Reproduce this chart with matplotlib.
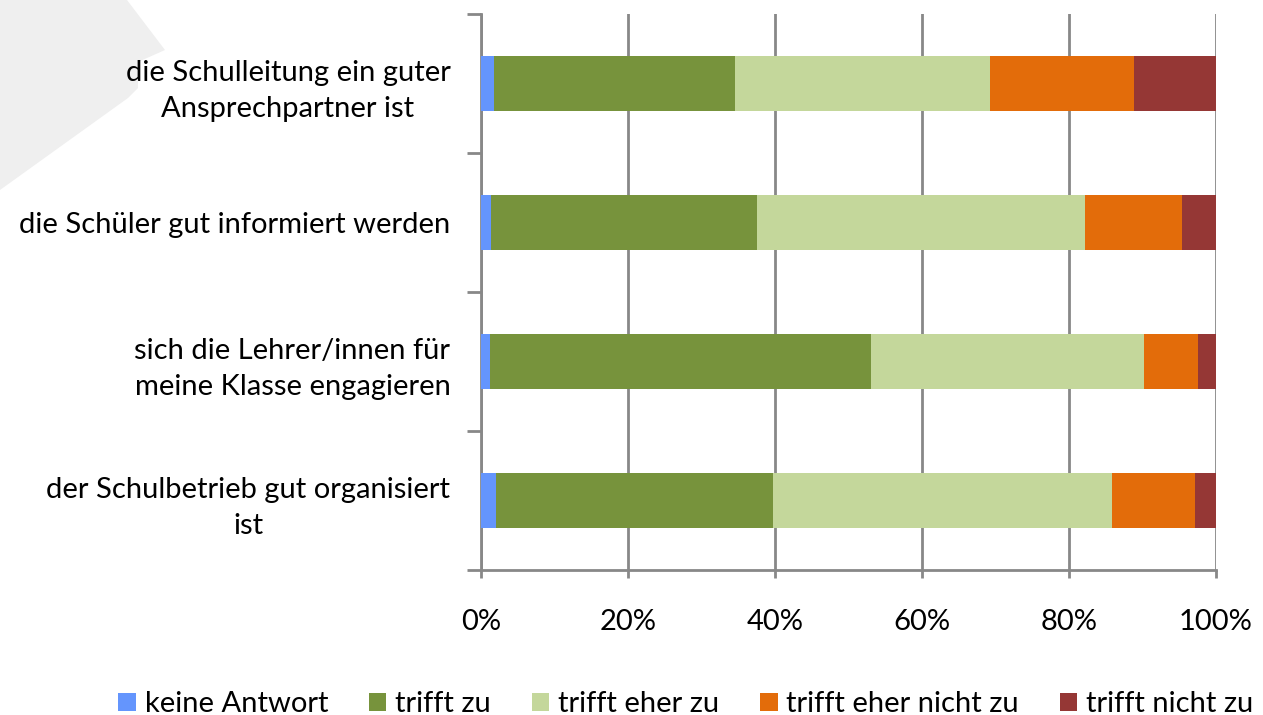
import matplotlib.pyplot as plt
from matplotlib.patches import Polygon
import numpy as np

plt.rcParams['font.family'] = ['Lato', 'DejaVu Sans']

categories = [
    "die Schulleitung ein guter\nAnsprechpartner ist",
    "die Schüler gut informiert werden",
    "sich die Lehrer/innen für\nmeine Klasse engagieren",
    "der Schulbetrieb gut organisiert\nist",
]
series_names = ["keine Antwort", "trifft zu", "trifft eher zu", "trifft eher nicht zu", "trifft nicht zu"]
keine_antwort = [1.8, 1.4, 1.2, 2.1]
trifft_zu = [32.8, 36.2, 51.8, 37.6]
trifft_eher_zu = [34.7, 44.6, 37.2, 46.2]
trifft_eher_nicht_zu = [19.5, 13.2, 7.4, 11.2]
trifft_nicht_zu = [11.2, 4.6, 2.4, 2.9]
colors = ["#6495fd", "#77933c", "#c4d79b", "#e36c0a", "#953735"]
x_ticklabels = ["0%", "20%", "40%", "60%", "80%", "100%"]

series = [keine_antwort, trifft_zu, trifft_eher_zu, trifft_eher_nicht_zu, trifft_nicht_zu]

W, H = 1263, 715
fig = plt.figure(figsize=(W / 100, H / 100), dpi=100)

# faint grey scrap in the top-left corner of the original scan
corner = [(0, 0), (127, 0), (165, 50), (138, 62), (138, 88), (128, 98), (0, 190)]
fig.patches.append(Polygon([(px / W, 1 - py / H) for px, py in corner], closed=True,
                           transform=fig.transFigure, fc="#efefef", ec="none", zorder=-5))

ax = fig.add_axes([481 / W, 145 / H, 735 / W, 556 / H])
ax.set_facecolor("none")

y = np.arange(len(categories))[::-1]
left = np.zeros(len(categories))
for name, vals, col in zip(series_names, series, colors):
    vals = np.array(vals)
    ax.barh(y, vals, left=left, height=0.4, color=col, label=name, zorder=3)
    left += vals

ax.set_xlim(0, 100)
ax.set_ylim(-0.5, 3.5)
ax.set_xticks(np.arange(0, 101, 20))
ax.set_xticklabels(x_ticklabels, fontsize=21)
ax.set_yticks(y)
ax.set_yticklabels(categories, fontsize=21, multialignment="center", linespacing=1.5)
ax.set_yticks(np.arange(-0.5, 3.6, 1), minor=True)
ax.tick_params(axis="y", which="major", length=0, pad=22)
ax.tick_params(axis="y", which="minor", length=10, width=2, color="#888888")
ax.tick_params(axis="x", length=6, width=2, color="#888888", pad=22)
ax.grid(axis="x", color="#888888", linewidth=2, zorder=1)
for s in ["top", "right"]:
    ax.spines[s].set_visible(False)
for s in ["left", "bottom"]:
    ax.spines[s].set_color("#888888")
    ax.spines[s].set_linewidth(2)

fig.legend(loc="lower center", bbox_to_anchor=(0.543, -0.04), ncol=5, frameon=False,
           fontsize=21, handlelength=0.6, handleheight=0.6, handletextpad=0.3,
           columnspacing=1.4)

fig.savefig("out.png", dpi=100)
